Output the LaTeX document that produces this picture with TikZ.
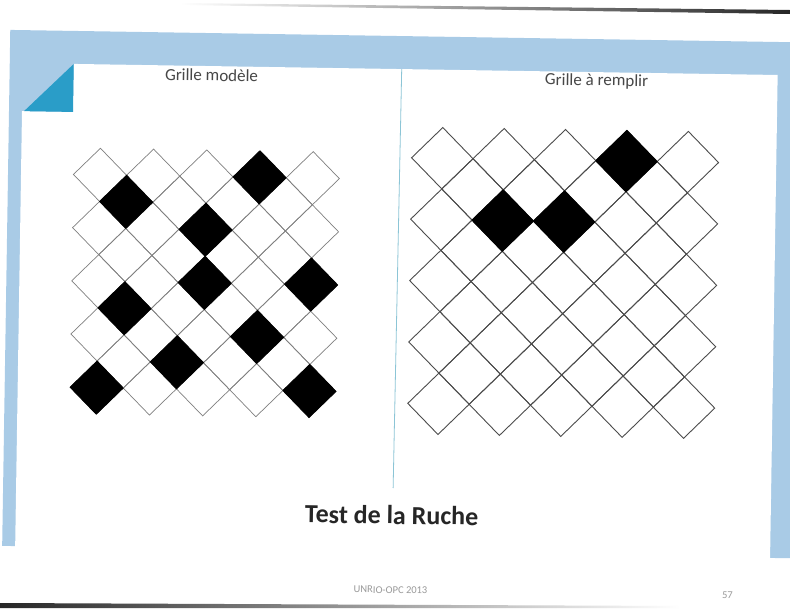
\documentclass[tikz,border=0pt]{standalone}
\usepackage{fontspec}
\setmainfont{Carlito}
\usetikzlibrary{shapes.geometric}

\definecolor{frameblue}{HTML}{A9CBE6}
\definecolor{cornerblue}{HTML}{2A9DC8}
\definecolor{rulecyan}{HTML}{8CC5D6}

\begin{document}
\begin{tikzpicture}[
    x=1pt, y=-1pt,
    cell/.style = {draw, shape=diamond, inner sep=0pt, outer sep=0pt,
                   minimum width=#1, minimum height=#1},
    modelcell/.style = {cell=53.2, draw=black!50, line width=0.7pt},
    blankcell/.style = {cell=61.4, draw=black!70, line width=0.9pt},
    heading/.style = {font=\fontsize{17}{20}\selectfont, text=black!72},
    footer/.style = {font=\fontsize{10.5}{12}\selectfont, text=black!40}
]
\useasboundingbox (0,0) rectangle (790,611);

\begin{scope}[rotate around={-0.9:(395,305)}, transform shape]
% slide frame
\fill[frameblue] (6,36) rectangle (830,552);
\fill[white] (70,69) -- (774,69) -- (774,640) -- (19,640) -- (19,117) -- (70,117) -- cycle;
\fill[cornerblue] (70,69) -- (70,117) -- (21,117) -- cycle;
\draw[rulecyan, line width=0.8pt] (398,69) -- (396,488);

\node[heading] (modeltitle) at (208,78) {Grille modèle};
\node[heading] (filltitle) at (593,78) {Grille à remplir};

% model grid
\foreach \k in {0,...,8} {
  \pgfmathtruncatemacro{\n}{4 - mod(\k,2)}
  \foreach \j in {0,...,\n}
    \node[modelcell] (m-\k-\j) at ({98 + 26.6*(2*\j + mod(\k,2))}, {179.5 + 26.6*\k}) {};
}
\foreach \k/\j in {0/3, 1/0, 2/2, 4/2, 4/4, 5/0, 6/3, 7/1, 8/0, 8/4}
  \filldraw[black, line width=0.7pt] (m-\k-\j.north) -- (m-\k-\j.east)
    -- (m-\k-\j.south) -- (m-\k-\j.west) -- cycle;

% grid to fill
\foreach \k in {0,...,8} {
  \pgfmathtruncatemacro{\n}{4 - mod(\k,2)}
  \foreach \j in {0,...,\n}
    \node[blankcell] (f-\k-\j) at ({440 + 30.7*(2*\j + mod(\k,2))}, {157.5 + 30.7*\k}) {};
}
\foreach \k/\j in {0/3, 2/1, 2/2}
  \filldraw[black, line width=0.9pt] (f-\k-\j.north) -- (f-\k-\j.east)
    -- (f-\k-\j.south) -- (f-\k-\j.west) -- cycle;

\node[font=\bfseries\fontsize{26}{30}\selectfont, text=black!85] (title) at (395,515) {Test de la Ruche};
\node[footer] (credit) at (395,590) {UNRIO-OPC 2013};
\node[footer] (pageno) at (732,590) {57};
\end{scope}

% edges of the photo
\shade[left color=white, right color=black!85] (180,3) -- (790,10) -- (790,14) -- (180,5) -- cycle;
\shade[left color=black!85, middle color=black!60, right color=white] (0,603) -- (680,606) -- (680,608) -- (0,608) -- cycle;
\end{tikzpicture}
\end{document}
